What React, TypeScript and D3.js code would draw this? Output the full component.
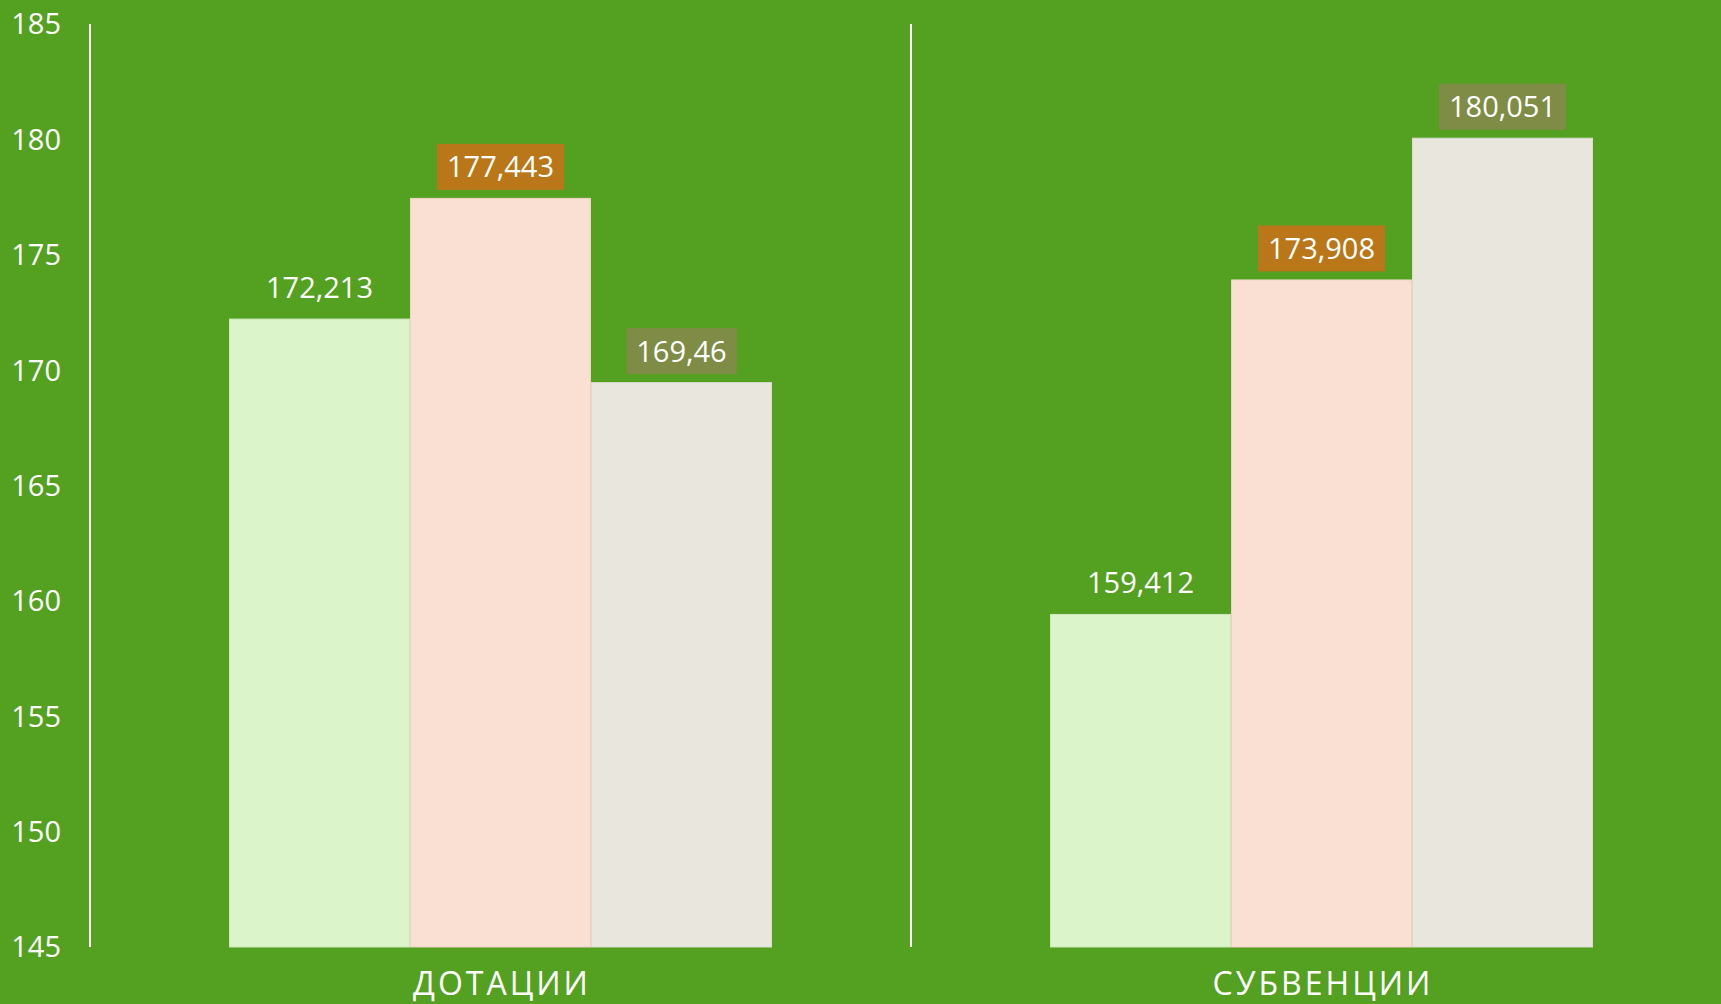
import React, { useEffect, useRef } from 'react';
import * as d3 from 'd3';

const categories = ['ДОТАЦИИ', 'СУБВЕНЦИИ'];
const seriesNames = ['s1', 's2', 's3'];
const series1 = [172.213, 159.412];
const series2 = [177.443, 173.908];
const series3 = [169.46, 180.051];
const yTicks = [145, 150, 155, 160, 165, 170, 175, 180, 185];

const barFills = ['#DBF4C9', '#F9E0D3', '#E9E7DD'];
const barStrokes = ['#CDE6BA', '#EDD2C3', '#DCD9CE'];
const boxFills = [null, '#BA7719', '#7E8C45'];

const W = 1721;
const H = 1004;
const FONT = "'Open Sans', 'Noto Sans', sans-serif";

export default function App() {
  const ref = useRef<SVGSVGElement | null>(null);

  useEffect(() => {
    document.body.style.margin = '0';
    const svg = d3.select(ref.current);
    svg.selectAll('*').remove();

    svg.append('rect').attr('width', W).attr('height', H).attr('fill', '#54A122');

    const y = d3.scaleLinear().domain([145, 185]).range([947, 24]);
    const x0 = d3.scaleBand<string>().domain(categories).range([90, 1732]).paddingInner(0).paddingOuter(0);
    const x1 = d3.scaleBand<string>().domain(seriesNames).range([139, 682]).padding(0);

    const data = [series1, series2, series3];

    categories.forEach((c) => {
      svg.append('line')
        .attr('x1', x0(c)!).attr('x2', x0(c)!)
        .attr('y1', y(185)).attr('y2', y(145))
        .attr('stroke', '#FFFFFF').attr('stroke-width', 2);
    });

    svg.append('g').selectAll('text').data(yTicks).enter().append('text')
      .attr('x', 61).attr('y', (d) => y(d))
      .attr('dy', '0.36em')
      .attr('text-anchor', 'end')
      .attr('font-family', FONT).attr('font-size', 29)
      .attr('fill', '#FFFFFF')
      .text((d) => String(d));

    categories.forEach((c, ci) => {
      seriesNames.forEach((s, si) => {
        const v = data[si][ci];
        const bx = x0(c)! + x1(s)!;
        const bw = x1.bandwidth();
        svg.append('rect')
          .attr('x', bx + 0.5).attr('y', y(v))
          .attr('width', bw - 1).attr('height', y(145) - y(v))
          .attr('fill', barFills[si])
          .attr('stroke', barStrokes[si]).attr('stroke-width', 1);
      });
    });

    categories.forEach((c, ci) => {
      seriesNames.forEach((s, si) => {
        const v = data[si][ci];
        const cx = x0(c)! + x1(s)! + x1.bandwidth() / 2;
        const cy = y(v) - 31.5;
        const g = svg.append('g');
        const txt = g.append('text')
          .attr('x', cx).attr('y', cy)
          .attr('dy', '0.36em')
          .attr('text-anchor', 'middle')
          .attr('font-family', FONT).attr('font-size', 29)
          .attr('fill', '#FFFFFF')
          .text(String(v).replace('.', ','));
        const fill = boxFills[si];
        if (fill) {
          const tw = (txt.node() as SVGTextElement).getComputedTextLength();
          g.insert('rect', 'text')
            .attr('x', cx - tw / 2 - 10).attr('y', cy - 23)
            .attr('width', tw + 20).attr('height', 46)
            .attr('fill', fill);
        }
      });
    });

    svg.append('g').selectAll('text').data(categories).enter().append('text')
      .attr('x', (d) => x0(d)! + x0.bandwidth() / 2 + 1.5)
      .attr('y', 995)
      .attr('text-anchor', 'middle')
      .attr('font-family', FONT).attr('font-size', 32)
      .attr('letter-spacing', 3)
      .attr('fill', '#FFFFFF')
      .text((d) => d);
  }, []);

  return (
    <svg ref={ref} width={W} height={H} style={{ display: 'block', position: 'absolute', left: 0, top: 0 }} />
  );
}
